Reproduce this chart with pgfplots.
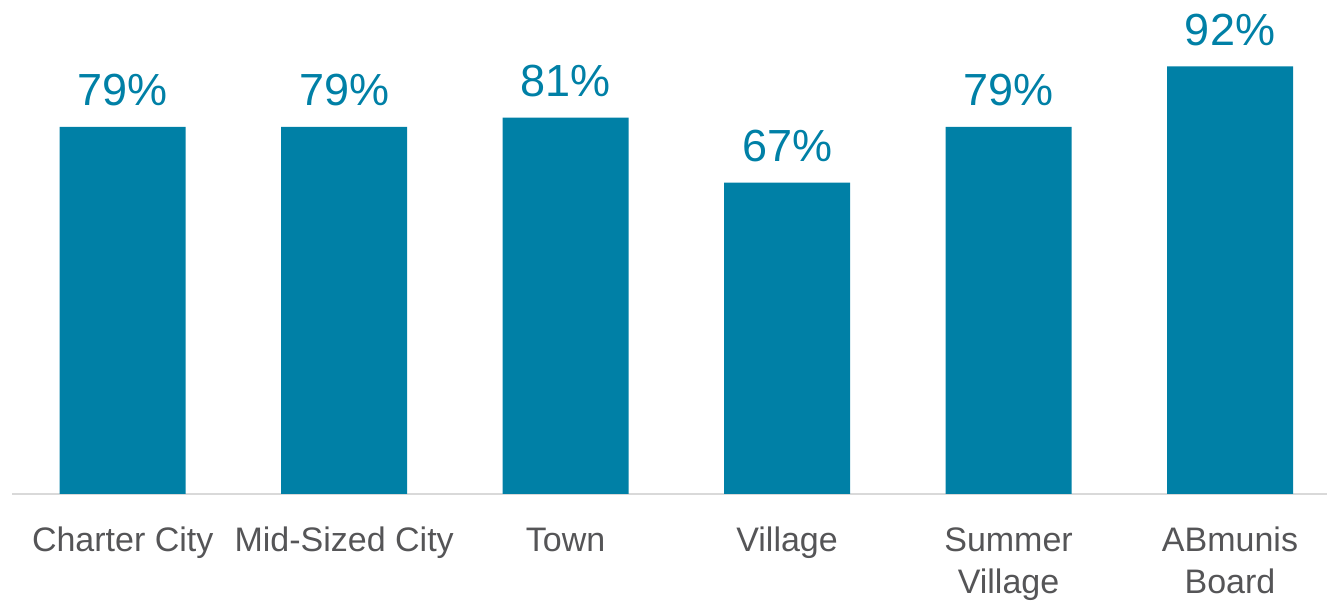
\documentclass[border=0pt]{standalone}
\usepackage{fontspec}
\setmainfont{Liberation Sans}
\usepackage{pgfplots}
\pgfplotsset{compat=1.18}
\definecolor{barc}{HTML}{0080A6}
\definecolor{labc}{HTML}{555557}
\definecolor{axc}{HTML}{D9D9D9}
\begin{document}
\begin{tikzpicture}
\begin{axis}[
  name=ax,
  scale only axis,
  width=657.5pt, height=247pt,
  xmin=-0.5, xmax=5.438,
  ymin=0, ymax=106.3,
  axis y line=none,
  axis x line*=bottom,
  x axis line style={draw=axc, line width=1pt, -},
  xtick={0,1,2,3,4,5},
  major tick length=0pt,
  xticklabels={\strut Charter City, \strut Mid-Sized City, \strut Town, \strut Village, \strut Summer\\Village, \strut ABmunis\\Board},
  xticklabel style={font=\fontsize{17}{21}\selectfont, text=labc, align=center, anchor=north, inner sep=0pt, yshift=-13.7pt},
  ytick=\empty,
  clip=false,
  /pgf/number format/assume math mode=true,
  nodes near coords={\pgfmathprintnumber{\pgfplotspointmeta}\%},
  nodes near coords style={font=\fontsize{22.5}{26}\selectfont, text=barc, anchor=base, inner sep=0pt, yshift=10.5pt},
]
\addplot[ybar, bar width=63pt, fill=barc, draw=none] coordinates {
  (0,79) (1,79) (2,81) (3,67) (4,79) (5,92)
};
\end{axis}
\pgfresetboundingbox
\path ([shift={(-6pt,-54.5pt)}]ax.south west) rectangle (ax.north east);
\end{tikzpicture}
\end{document}
